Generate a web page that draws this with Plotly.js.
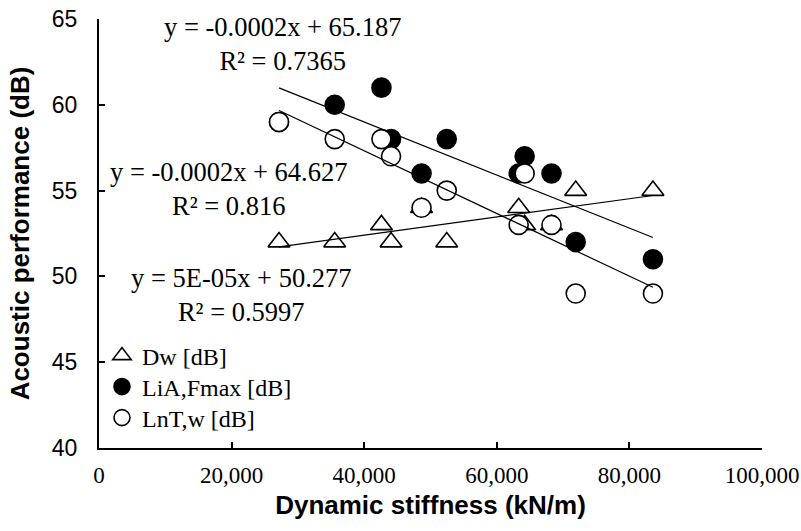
<!DOCTYPE html>
<html>
<head>
<meta charset="utf-8">
<script src="https://cdn.plot.ly/plotly-3.0.1.min.js"></script>
<style>html,body{margin:0;padding:0;background:#fff;}#chart{width:801px;height:531px;}</style>
</head>
<body>
<div id="chart"></div>
<script>
// Dynamic stiffness (kN/m)
const stiffness = [27150, 35550, 42600, 44050, 48650, 52450, 63300, 64200, 68250, 71900, 83550];
// Acoustic performance (dB)
const dw  = [52, 52, 53, 52, 54, 52, 54, 53, 53, 55, 55];
const lia = [59, 60, 61, 58, 56, 58, 56, 57, 56, 52, 51];
const lnt = [59, 58, 58, 57, 54, 55, 53, 56, 53, 49, 49];

const xTicks = [0, 20000, 40000, 60000, 80000, 100000];
const yTicks = [40, 45, 50, 55, 60, 65];

const seriesNames = ['Dw [dB]', 'LiA,Fmax [dB]', 'LnT,w [dB]'];
const eqLabels = [
  'y = 5E-05x + 50.277<br>R² = 0.5997',
  'y = -0.0002x + 65.187<br>R² = 0.7365',
  'y = -0.0002x + 64.627<br>R² = 0.816'
];

function fit(xs, ys) {
  const n = xs.length;
  const mx = xs.reduce((a, b) => a + b, 0) / n;
  const my = ys.reduce((a, b) => a + b, 0) / n;
  let sxy = 0, sxx = 0;
  for (let i = 0; i < n; i++) { sxy += (xs[i] - mx) * (ys[i] - my); sxx += (xs[i] - mx) ** 2; }
  const m = sxy / sxx, b = my - m * mx;
  const x0 = Math.min(...xs), x1 = Math.max(...xs);
  return { x: [x0, x1], y: [m * x0 + b, m * x1 + b] };
}

const serif = 'Liberation Serif, Times New Roman, serif';
const sans = 'Liberation Sans, Arial, sans-serif';

const markerCommon = { size: 19, line: { color: '#000', width: 1.6 } };
const traces = [
  { x: stiffness, y: dw, mode: 'markers', name: seriesNames[0], type: 'scatter', legend: 'legend',
    marker: Object.assign({}, markerCommon, { symbol: 'triangle-up', color: '#fff' }) },
  { x: stiffness, y: lia, mode: 'markers', name: seriesNames[1], type: 'scatter', legend: 'legend2',
    marker: Object.assign({}, markerCommon, { symbol: 'circle', color: '#000' }) },
  { x: stiffness, y: lnt, mode: 'markers', name: seriesNames[2], type: 'scatter', legend: 'legend3',
    marker: Object.assign({}, markerCommon, { symbol: 'circle', color: '#fff' }) }
];
[dw, lia, lnt].forEach(ys => {
  const f = fit(stiffness, ys);
  traces.push({ x: f.x, y: f.y, mode: 'lines', type: 'scatter', showlegend: false,
    hoverinfo: 'skip', line: { color: '#000', width: 1.2 } });
});

const annFont = { family: serif, size: 26.5, color: '#000' };
const annotations = [
  { text: eqLabels[1], x: 0.2763, y: 0.9417 },
  { text: eqLabels[2], x: 0.1959, y: 0.6037 },
  { text: eqLabels[0], x: 0.2147, y: 0.3566 }
].map(a => Object.assign({ xref: 'paper', yref: 'paper', xanchor: 'center', yanchor: 'middle',
  showarrow: false, align: 'center', font: annFont }, a));

function legendAt(y) {
  return { x: 0.0045, y: y, xanchor: 'left', yanchor: 'middle', bgcolor: 'rgba(0,0,0,0)',
    font: { family: serif, size: 24, color: '#000' }, itemsizing: 'trace' };
}

const layout = {
  width: 801, height: 531,
  margin: { l: 99, r: 39, t: 19, b: 83 },
  paper_bgcolor: '#fff', plot_bgcolor: '#fff',
  showlegend: true,
  legend: legendAt(0.2145),
  legend2: legendAt(0.1422),
  legend3: legendAt(0.0699),
  xaxis: {
    range: [0, 100000], tickmode: 'array', tickvals: xTicks, tickformat: ',d',
    showgrid: false, zeroline: false, showline: true, linecolor: '#000', linewidth: 2,
    ticks: 'inside', ticklen: 6, tickwidth: 2, tickcolor: '#000',
    tickfont: { family: serif, size: 23, color: '#000' },
    ticklabelposition: 'outside', ticklabelstandoff: 5, ticklabeloverflow: 'allow',
    automargin: false,
    title: { text: 'Dynamic stiffness (kN/m)', font: { family: sans, size: 26, color: '#000', weight: 'bold' }, standoff: 9 }
  },
  yaxis: {
    range: [40, 65], tickmode: 'array', tickvals: yTicks,
    showgrid: false, zeroline: false, showline: true, linecolor: '#000', linewidth: 2,
    ticks: 'inside', ticklen: 6, tickwidth: 2, tickcolor: '#000',
    tickfont: { family: sans, size: 23, color: '#000' },
    ticklabelposition: 'outside', ticklabelstandoff: 15,
    automargin: false,
    title: { text: 'Acoustic performance (dB)', font: { family: sans, size: 26, color: '#000', weight: 'bold' }, standoff: 15 }
  },
  annotations: annotations
};

Plotly.newPlot('chart', traces, layout, { displayModeBar: false, staticPlot: true });
</script>
</body>
</html>
